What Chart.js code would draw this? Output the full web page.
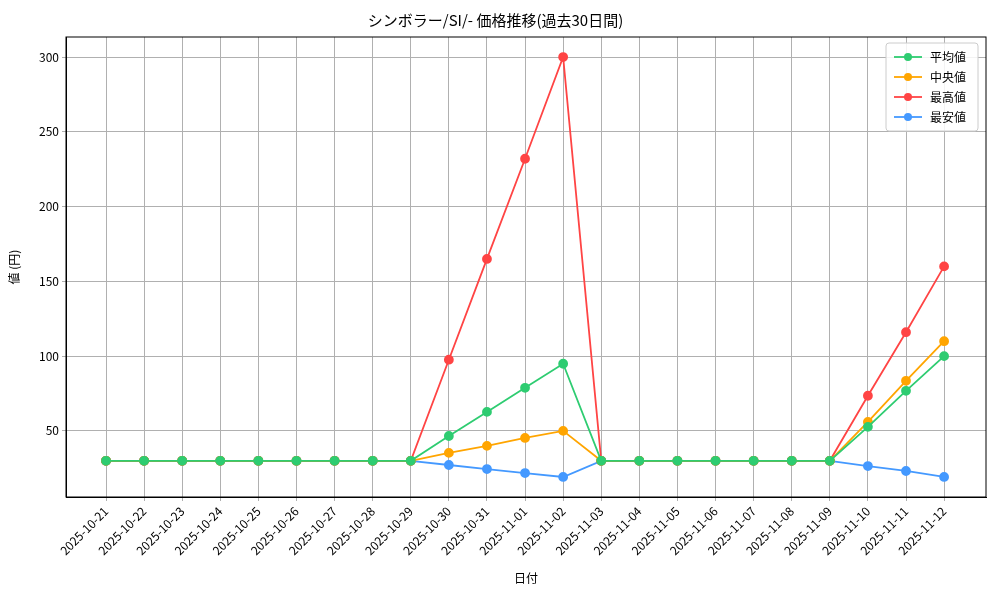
<!DOCTYPE html>
<html lang="ja">
<head>
  <meta charset="UTF-8">
  <title>価格推移</title>
  <script src="https://cdn.jsdelivr.net/npm/chart.js"></script>
  <style>
    body { margin: 0; background: #fff; }
    #wrap { width: 1000px; height: 600px; }
  </style>
</head>
<body>
  <div id="wrap"><canvas id="c"></canvas></div>
  <script>
    const dates = ['2025-10-21','2025-10-22','2025-10-23','2025-10-24','2025-10-25','2025-10-26','2025-10-27','2025-10-28','2025-10-29','2025-10-30','2025-10-31','2025-11-01','2025-11-02','2025-11-03','2025-11-04','2025-11-05','2025-11-06','2025-11-07','2025-11-08','2025-11-09','2025-11-10','2025-11-11','2025-11-12'];
    const avgVals = [30,30,30,30,30,30,30,30,30,46.6,62.7,78.8,94.9,30,30,30,30,30,30,30,52.7,76.8,100];
    const medVals = [30,30,30,30,30,30,30,30,30,35.3,40,45.3,50,30,30,30,30,30,30,30,56,83.5,110];
    const maxVals = [30,30,30,30,30,30,30,30,30,97.6,165,232,300,30,30,30,30,30,30,30,73.5,116,160];
    const minVals = [30,30,30,30,30,30,30,30,30,27.2,24.5,21.8,19.2,30,30,30,30,30,30,30,26.5,23.2,19.2];
    const yTicks = [50,100,150,200,250,300];
    const FONT = '"Noto Sans CJK JP", "DejaVu Sans", sans-serif';

    const mk = (label, vals, color) => ({
      label, data: vals.map((v, i) => ({ x: i, y: v })),
      borderColor: color, backgroundColor: color, borderWidth: 1.8,
      pointRadius: 4, pointHoverRadius: 4, tension: 0
    });

    // full frame around the plot + legend box in the top right
    const frameAndLegend = {
      id: 'frameAndLegend',
      afterDraw(chart) {
        const ctx = chart.ctx, a = chart.chartArea;
        ctx.save();
        ctx.strokeStyle = '#000'; ctx.lineWidth = 1;
        ctx.strokeRect(a.left, a.top, a.right - a.left, a.bottom - a.top);

        const ds = chart.data.datasets;
        const w = 92, rowH = 20, h = ds.length * rowH + 8;
        const x0 = a.right - w - 8, y0 = a.top + 6;
        ctx.fillStyle = 'rgba(255,255,255,0.85)';
        ctx.strokeStyle = '#ccc';
        ctx.beginPath();
        ctx.roundRect(x0, y0, w, h, 3);
        ctx.fill(); ctx.stroke();
        ctx.font = '12px ' + FONT;
        ctx.textBaseline = 'middle';
        ds.forEach((d, i) => {
          const cy = y0 + 14 + i * rowH;
          ctx.strokeStyle = d.borderColor; ctx.lineWidth = 1.8;
          ctx.beginPath(); ctx.moveTo(x0 + 8, cy); ctx.lineTo(x0 + 36, cy); ctx.stroke();
          ctx.fillStyle = d.borderColor;
          ctx.beginPath(); ctx.arc(x0 + 22, cy, 4, 0, Math.PI * 2); ctx.fill();
          ctx.fillStyle = '#000';
          ctx.fillText(d.label, x0 + 44, cy);
        });
        ctx.restore();
      }
    };

    new Chart(document.getElementById('c'), {
      type: 'line',
      data: { datasets: [
        mk('平均値', avgVals, '#2ecc71'),
        mk('中央値', medVals, '#ffa500'),
        mk('最高値', maxVals, '#ff4444'),
        mk('最安値', minVals, '#4499ff')
      ] },
      options: {
        responsive: true, maintainAspectRatio: false, animation: false,
        layout: { padding: { left: 5, right: 14, top: 5, bottom: 14 } },
        plugins: {
          legend: { display: false },
          tooltip: { enabled: false },
          title: { display: true, text: 'シンボラー/SI/- 価格推移(過去30日間)', color: '#000',
                   font: { family: FONT, size: 15, weight: 'normal' }, padding: { top: 6, bottom: 8 } }
        },
        scales: {
          x: {
            type: 'linear', min: -1.05, max: 23.1,
            afterBuildTicks: s => { s.ticks = dates.map((_, i) => ({ value: i })); },
            afterFit: s => { s.height = 89; },
            ticks: { callback: v => dates[v], maxRotation: 45, minRotation: 45, autoSkip: false,
                     color: '#000', font: { family: FONT, size: 12 } },
            grid: { color: '#b0b0b0', tickLength: 4 },
            border: { color: '#000' },
            title: { display: true, text: '日付', color: '#000', font: { family: FONT, size: 12 }, padding: 0 }
          },
          y: {
            min: 5.8, max: 313.4,
            afterBuildTicks: s => { s.ticks = yTicks.map(v => ({ value: v })); },
            afterFit: s => { s.width = 61; },
            ticks: { color: '#000', font: { family: FONT, size: 12 } },
            grid: { color: '#b0b0b0', tickLength: 4 },
            border: { color: '#000' },
            title: { display: true, text: '値 (円)', color: '#000', font: { family: FONT, size: 12 }, padding: 2 }
          }
        }
      },
      plugins: [frameAndLegend]
    });
  </script>
</body>
</html>
